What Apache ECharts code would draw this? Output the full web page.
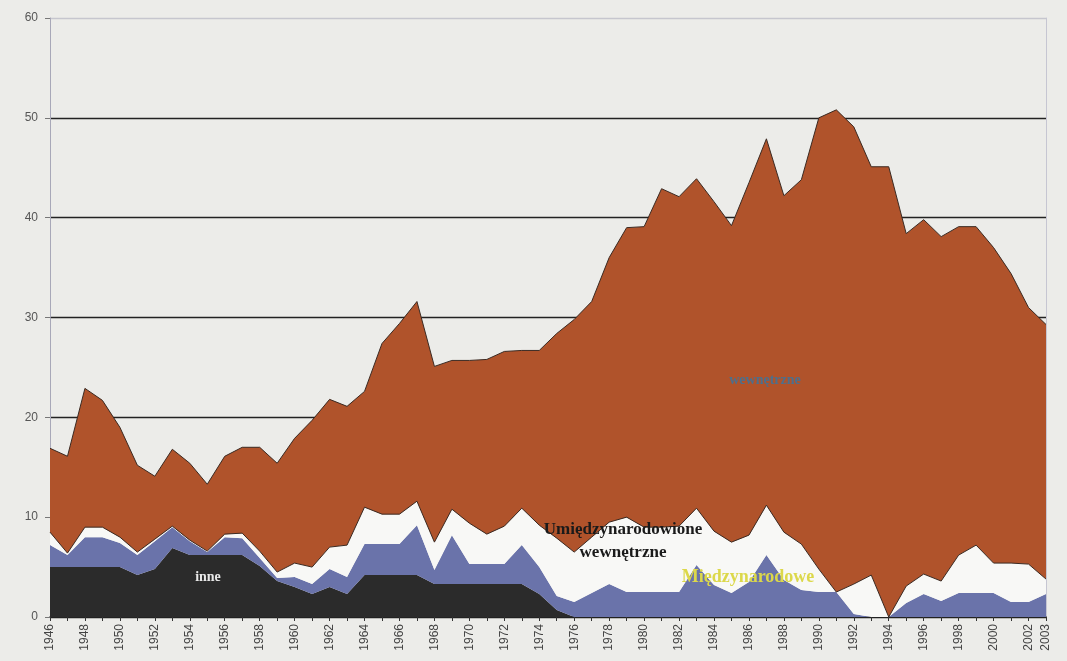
<!DOCTYPE html>
<html>
<head>
<meta charset="utf-8">
<script src="https://cdn.jsdelivr.net/npm/echarts@6/dist/echarts.min.js"></script>
<style>
  html, body { margin: 0; padding: 0; background: #ecece9; }
  #chart { width: 1067px; height: 661px; }
</style>
</head>
<body>
<div id="chart"></div>
<script>
// lata
var years = [];
for (var y = 1946; y <= 2003; y++) years.push(String(y));

// inne (czarne)
var inne = [5.0, 5.0, 5.0, 5.0, 5.0, 4.2, 4.8, 6.9, 6.2, 6.2,
  6.2, 6.2, 5.1, 3.6, 3.0, 2.3, 3.0, 2.3, 4.2, 4.2,
  4.2, 4.2, 3.3, 3.3, 3.3, 3.3, 3.3, 3.3, 2.3, 0.7,
  0, 0, 0, 0, 0, 0, 0, 0, 0, 0,
  0, 0, 0, 0, 0, 0, 0, 0, 0, 0,
  0, 0, 0, 0, 0, 0, 0, 0];

// Międzynarodowe (niebieskie)
var miedzynarodowe = [2.2, 1.2, 3.0, 3.0, 2.4, 2.0, 2.8, 2.1, 1.4, 0.3,
  1.8, 1.7, 0.8, 0.3, 1.0, 1.0, 1.8, 1.7, 3.1, 3.1,
  3.1, 5.0, 1.4, 4.9, 2.0, 2.0, 2.0, 3.9, 2.7, 1.4,
  1.5, 2.4, 3.3, 2.5, 2.5, 2.5, 2.5, 5.2, 3.2, 2.4,
  3.5, 6.2, 3.7, 2.7, 2.5, 2.5, 0.3, 0, 0, 1.4,
  2.3, 1.6, 2.4, 2.4, 2.4, 1.5, 1.5, 2.3];

// Umiędzynarodowione wewnętrzne (białe)
var umiedzynarodowione = [1.3, 0.2, 1.0, 1.0, 0.6, 0.3, 0.2, 0.1, 0.1, 0.1,
  0.3, 0.5, 0.7, 0.6, 1.4, 1.7, 2.2, 3.2, 3.7, 3.0,
  3.0, 2.4, 2.8, 2.6, 4.1, 3.0, 3.8, 3.7, 4.2, 5.8,
  5.0, 5.6, 6.2, 7.5, 6.5, 6.5, 6.6, 5.7, 5.4, 5.1,
  4.7, 5.0, 4.8, 4.6, 2.3, 0, 3.0, 4.2, 0, 1.7,
  2.0, 2.0, 3.8, 4.8, 3.0, 3.9, 3.8, 1.5];

// wewnętrzne (brązowe)
var wewnetrzne = [8.4, 9.7, 13.9, 12.7, 11.0, 8.7, 6.3, 7.7, 7.7, 6.7,
  7.8, 8.6, 10.4, 10.9, 12.5, 14.7, 14.8, 13.9, 11.6, 17.1,
  19.1, 20.0, 17.6, 14.9, 16.3, 17.5, 17.5, 15.8, 17.5, 20.5,
  23.3, 23.6, 26.5, 29.0, 30.1, 33.9, 33.0, 33.0, 33.0, 31.7,
  35.3, 36.7, 33.7, 36.5, 45.2, 48.3, 45.8, 40.9, 45.1, 35.3,
  35.5, 34.5, 32.9, 31.9, 31.6, 29.0, 25.7, 25.5];

var yTicks = [0, 10, 20, 30, 40, 50, 60];

var myChart = echarts.init(document.getElementById("chart"));

function layer(name, data, color, lineColor, lineWidth) {
  return {
    name: name,
    type: "line",
    stack: "total",
    data: data,
    showSymbol: false,
    symbol: "none",
    lineStyle: { color: lineColor, width: lineWidth },
    areaStyle: { color: color, opacity: 1 },
    itemStyle: { color: color },
    z: 3,
  };
}

var option = {
  backgroundColor: "#ecece9",
  animation: false,
  grid: { left: 50, right: 21, top: 18, bottom: 44 },
  xAxis: {
    type: "category",
    boundaryGap: false,
    data: years,
    axisLine: { lineStyle: { color: "#222", width: 1.5 } },
    axisTick: { show: true, interval: 0, length: 4, lineStyle: { color: "#333" } },
    axisLabel: {
      rotate: 90,
      interval: function (index) {
        return index % 2 === 0 || index === years.length - 1;
      },
      color: "#444",
      fontSize: 12,
      fontFamily: "Liberation Sans",
      margin: 7,
    },
  },
  yAxis: [
    {
      type: "value",
      min: yTicks[0],
      max: yTicks[yTicks.length - 1],
      interval: 10,
      axisLine: { show: true, lineStyle: { color: "#a8a8b8", width: 1 } },
      axisTick: { show: true, length: 5, lineStyle: { color: "#777" } },
      axisLabel: { color: "#555", fontSize: 12, fontFamily: "Liberation Sans", margin: 12 },
      splitLine: {
        show: true,
        lineStyle: {
          color: ["#222", "#222", "#222", "#222", "#222", "#222", "#c6c6ce"],
          width: 1.3,
        },
      },
    },
    {
      type: "value",
      min: 0,
      max: 60,
      interval: 10,
      position: "right",
      axisLine: { show: true, lineStyle: { color: "#c6c6d2", width: 1 } },
      axisTick: { show: false },
      axisLabel: { show: false },
      splitLine: { show: false },
    },
  ],
  series: [
    layer("inne", inne, "#2b2b2b", "#2b2b2b", 0),
    layer("Międzynarodowe", miedzynarodowe, "#6a73aa", "#6a73aa", 0),
    layer("Umiędzynarodowione wewnętrzne", umiedzynarodowione, "#f8f8f6", "#3b2a22", 1),
    layer("wewnętrzne", wewnetrzne, "#b0532b", "#3b2a22", 1),
  ],
  graphic: [
    {
      type: "text", x: 208, y: 577, z: 10,
      style: {
        text: "inne", fill: "#e8e8e8", font: "bold 14px 'Liberation Serif'",
        align: "center", verticalAlign: "middle",
      },
    },
    {
      type: "text", x: 623, y: 541, z: 10,
      style: {
        text: "Umiędzynarodowione\nwewnętrzne",
        fill: "#1a1a1a",
        font: "bold 17px 'Liberation Serif'",
        align: "center",
        verticalAlign: "middle",
        lineHeight: 23,
      },
    },
    {
      type: "text", x: 748, y: 577, z: 10,
      style: {
        text: "Międzynarodowe", fill: "#dcd84a", font: "bold 18px 'Liberation Serif'",
        align: "center", verticalAlign: "middle",
      },
    },
    {
      type: "text", x: 765, y: 380, z: 10,
      style: {
        text: "wewnętrzne", fill: "#4d6f8c", font: "bold 14px 'Liberation Serif'",
        align: "center", verticalAlign: "middle",
      },
    },
  ],
};

if (option && typeof option === "object") {
  myChart.setOption(option);
}
</script>
</body>
</html>
